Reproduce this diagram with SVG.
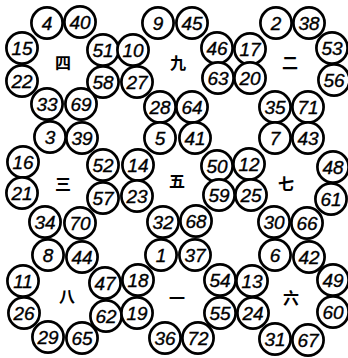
<svg xmlns="http://www.w3.org/2000/svg" width="348" height="358" viewBox="0 0 348 358">
<style>
.c{fill:#fff;stroke:#000;stroke-width:2.7}
.n{font-family:"Liberation Sans",Arial,sans-serif;font-style:italic;font-size:19px;text-anchor:middle;dominant-baseline:central;fill:#000;stroke:#000;stroke-width:0.35}
.h{font-family:"Noto Sans CJK SC","Noto Sans CJK JP",sans-serif;font-weight:bold;font-size:16px;text-anchor:middle;dominant-baseline:central;fill:#000}
</style>
<defs><circle id="o" r="15.6" class="c"/></defs>
<rect width="348" height="358" fill="#fff"/>
<g id="ring4" transform="translate(63,64)">
<g id="n4"><use href="#o" x="-16" y="-41"/><text class="n" x="-16" y="-41">4</text></g>
<g id="n40"><use href="#o" x="17" y="-42"/><text class="n" x="17" y="-42">40</text></g>
<g id="n15"><use href="#o" x="-41" y="-16"/><text class="n" x="-41" y="-16">15</text></g>
<g id="n51"><use href="#o" x="40" y="-14"/><text class="n" x="40" y="-14">51</text></g>
<g id="n22"><use href="#o" x="-41" y="17"/><text class="n" x="-41" y="17">22</text></g>
<g id="n58"><use href="#o" x="40" y="18"/><text class="n" x="40" y="18">58</text></g>
<g id="n33"><use href="#o" x="-16" y="40"/><text class="n" x="-16" y="40">33</text></g>
<g id="n69"><use href="#o" x="18" y="40"/><text class="n" x="18" y="40">69</text></g>
<g id="l4"><text class="h" x="0" y="-2" font-size="12">四</text></g>
</g>
<g id="ring9" transform="translate(176,65)">
<g id="n9"><use href="#o" x="-18" y="-42"/><text class="n" x="-18" y="-42">9</text></g>
<g id="n45"><use href="#o" x="16" y="-42"/><text class="n" x="16" y="-42">45</text></g>
<g id="n10"><use href="#o" x="-43" y="-15"/><text class="n" x="-43" y="-15">10</text></g>
<g id="n46"><use href="#o" x="41" y="-17"/><text class="n" x="41" y="-17">46</text></g>
<g id="n27"><use href="#o" x="-39" y="17"/><text class="n" x="-39" y="17">27</text></g>
<g id="n63"><use href="#o" x="42" y="13"/><text class="n" x="42" y="13">63</text></g>
<g id="n28"><use href="#o" x="-16" y="42"/><text class="n" x="-16" y="42">28</text></g>
<g id="n64"><use href="#o" x="16" y="42"/><text class="n" x="16" y="42">64</text></g>
<g id="l9"><text class="h" x="2" y="-3">九</text></g>
</g>
<g id="ring2" transform="translate(292,65)">
<g id="n2"><use href="#o" x="-16" y="-42"/><text class="n" x="-16" y="-42">2</text></g>
<g id="n38"><use href="#o" x="17" y="-42"/><text class="n" x="17" y="-42">38</text></g>
<g id="n17"><use href="#o" x="-42" y="-16"/><text class="n" x="-42" y="-16">17</text></g>
<g id="n53"><use href="#o" x="40" y="-17"/><text class="n" x="40" y="-17">53</text></g>
<g id="n20"><use href="#o" x="-42" y="13"/><text class="n" x="-42" y="13">20</text></g>
<g id="n56"><use href="#o" x="42" y="15"/><text class="n" x="42" y="15">56</text></g>
<g id="n35"><use href="#o" x="-17" y="42"/><text class="n" x="-17" y="42">35</text></g>
<g id="n71"><use href="#o" x="16" y="42"/><text class="n" x="16" y="42">71</text></g>
<g id="l2"><text class="h" x="-2" y="-3">二</text></g>
</g>
<g id="ring3" transform="translate(63,180)">
<g id="n3"><use href="#o" x="-13" y="-43"/><text class="n" x="-13" y="-43">3</text></g>
<g id="n39"><use href="#o" x="19" y="-42"/><text class="n" x="19" y="-42">39</text></g>
<g id="n16"><use href="#o" x="-40" y="-18"/><text class="n" x="-40" y="-18">16</text></g>
<g id="n52"><use href="#o" x="40" y="-15"/><text class="n" x="40" y="-15">52</text></g>
<g id="n21"><use href="#o" x="-41" y="13"/><text class="n" x="-41" y="13">21</text></g>
<g id="n57"><use href="#o" x="40" y="18"/><text class="n" x="40" y="18">57</text></g>
<g id="n34"><use href="#o" x="-18" y="42"/><text class="n" x="-18" y="42">34</text></g>
<g id="n70"><use href="#o" x="17" y="43"/><text class="n" x="17" y="43">70</text></g>
<g id="l3"><text class="h" x="0" y="3">三</text></g>
</g>
<g id="ring5" transform="translate(177,180)">
<g id="n5"><use href="#o" x="-17" y="-42"/><text class="n" x="-17" y="-42">5</text></g>
<g id="n41"><use href="#o" x="18" y="-42"/><text class="n" x="18" y="-42">41</text></g>
<g id="n14"><use href="#o" x="-39" y="-15"/><text class="n" x="-39" y="-15">14</text></g>
<g id="n50"><use href="#o" x="40" y="-14"/><text class="n" x="40" y="-14">50</text></g>
<g id="n23"><use href="#o" x="-40" y="16"/><text class="n" x="-40" y="16">23</text></g>
<g id="n59"><use href="#o" x="42" y="15"/><text class="n" x="42" y="15">59</text></g>
<g id="n32"><use href="#o" x="-14" y="42"/><text class="n" x="-14" y="42">32</text></g>
<g id="n68"><use href="#o" x="19" y="41"/><text class="n" x="19" y="41">68</text></g>
<g id="l5"><text class="h" x="0" y="0">五</text></g>
</g>
<g id="ring7" transform="translate(291,180)">
<g id="n7"><use href="#o" x="-16" y="-42"/><text class="n" x="-16" y="-42">7</text></g>
<g id="n43"><use href="#o" x="17" y="-42"/><text class="n" x="17" y="-42">43</text></g>
<g id="n12"><use href="#o" x="-42" y="-16"/><text class="n" x="-42" y="-16">12</text></g>
<g id="n48"><use href="#o" x="42" y="-13"/><text class="n" x="42" y="-13">48</text></g>
<g id="n25"><use href="#o" x="-40" y="15"/><text class="n" x="-40" y="15">25</text></g>
<g id="n61"><use href="#o" x="40" y="19"/><text class="n" x="40" y="19">61</text></g>
<g id="n30"><use href="#o" x="-17" y="42"/><text class="n" x="-17" y="42">30</text></g>
<g id="n66"><use href="#o" x="16" y="43"/><text class="n" x="16" y="43">66</text></g>
<g id="l7"><text class="h" x="-5" y="3">七</text></g>
</g>
<g id="ring8" transform="translate(64,297)">
<g id="n8"><use href="#o" x="-16" y="-42"/><text class="n" x="-16" y="-42">8</text></g>
<g id="n44"><use href="#o" x="18" y="-40"/><text class="n" x="18" y="-40">44</text></g>
<g id="n11"><use href="#o" x="-41" y="-16"/><text class="n" x="-41" y="-16">11</text></g>
<g id="n47"><use href="#o" x="41" y="-14"/><text class="n" x="41" y="-14">47</text></g>
<g id="n26"><use href="#o" x="-40" y="16"/><text class="n" x="-40" y="16">26</text></g>
<g id="n62"><use href="#o" x="42" y="19"/><text class="n" x="42" y="19">62</text></g>
<g id="n29"><use href="#o" x="-16" y="40"/><text class="n" x="-16" y="40">29</text></g>
<g id="n65"><use href="#o" x="18" y="41"/><text class="n" x="18" y="41">65</text></g>
<g id="l8"><text class="h" x="3" y="-2">八</text></g>
</g>
<g id="ring1" transform="translate(177,297)">
<g id="n1"><use href="#o" x="-16" y="-42"/><text class="n" x="-16" y="-42">1</text></g>
<g id="n37"><use href="#o" x="18" y="-42"/><text class="n" x="18" y="-42">37</text></g>
<g id="n18"><use href="#o" x="-39" y="-17"/><text class="n" x="-39" y="-17">18</text></g>
<g id="n54"><use href="#o" x="43" y="-17"/><text class="n" x="43" y="-17">54</text></g>
<g id="n19"><use href="#o" x="-40" y="16"/><text class="n" x="-40" y="16">19</text></g>
<g id="n55"><use href="#o" x="43" y="16"/><text class="n" x="43" y="16">55</text></g>
<g id="n36"><use href="#o" x="-12" y="41"/><text class="n" x="-12" y="41">36</text></g>
<g id="n72"><use href="#o" x="21" y="41"/><text class="n" x="21" y="41">72</text></g>
<g id="l1"><text class="h" x="0" y="0">一</text></g>
</g>
<g id="ring6" transform="translate(291,297)">
<g id="n6"><use href="#o" x="-16" y="-42"/><text class="n" x="-16" y="-42">6</text></g>
<g id="n42"><use href="#o" x="18" y="-40"/><text class="n" x="18" y="-40">42</text></g>
<g id="n13"><use href="#o" x="-39" y="-16"/><text class="n" x="-39" y="-16">13</text></g>
<g id="n49"><use href="#o" x="42" y="-17"/><text class="n" x="42" y="-17">49</text></g>
<g id="n24"><use href="#o" x="-38" y="16"/><text class="n" x="-38" y="16">24</text></g>
<g id="n60"><use href="#o" x="42" y="15"/><text class="n" x="42" y="15">60</text></g>
<g id="n31"><use href="#o" x="-16" y="42"/><text class="n" x="-16" y="42">31</text></g>
<g id="n67"><use href="#o" x="17" y="43"/><text class="n" x="17" y="43">67</text></g>
<g id="l6"><text class="h" x="0" y="0">六</text></g>
</g>
</svg>
